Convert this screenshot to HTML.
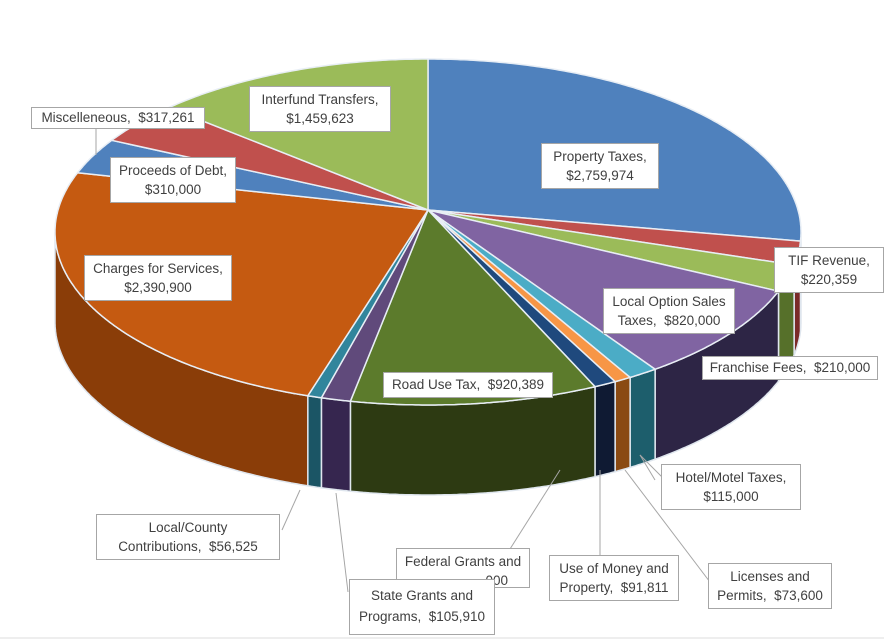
<!DOCTYPE html>
<html><head><meta charset="utf-8"><style>
body{margin:0;background:#fff;width:884px;height:639px;position:relative;overflow:hidden;font-family:"Liberation Sans",sans-serif}
.l{position:absolute;background:#fff;border:1px solid #a6a6a6;font-size:13.5px;color:#404040;text-align:center;line-height:19px;padding:3px 6px;white-space:nowrap;box-sizing:border-box}
svg{position:absolute;left:0;top:0}
</style></head><body>
<svg id="s" width="884" height="639"></svg>
<div class="l" style="left:249px;top:86px;width:142px">Interfund Transfers,<br>$1,459,623</div>
<div class="l" style="left:31px;top:107px;width:174px;line-height:20px;padding:0 4px">Miscelleneous,&nbsp; $317,261</div>
<div class="l" style="left:110px;top:157px;width:126px">Proceeds of Debt,<br>$310,000</div>
<div class="l" style="left:541px;top:143px;width:118px">Property Taxes,<br>$2,759,974</div>
<div class="l" style="left:774px;top:247px;width:110px">TIF Revenue,<br>$220,359</div>
<div class="l" style="left:84px;top:255px;width:148px">Charges for Services,<br>$2,390,900</div>
<div class="l" style="left:603px;top:288px;width:132px">Local Option Sales<br>Taxes,&nbsp; $820,000</div>
<div class="l" style="left:702px;top:356px;width:176px;line-height:20px;padding:1px 4px">Franchise Fees,&nbsp; $210,000</div>
<div class="l" style="left:383px;top:372px;width:170px;line-height:20px;padding:2px 4px">Road Use Tax,&nbsp; $920,389</div>
<div class="l" style="left:661px;top:464px;width:140px">Hotel/Motel Taxes,<br>$115,000</div>
<div class="l" style="left:96px;top:514px;width:184px">Local/County<br>Contributions,&nbsp; $56,525</div>
<div class="l" style="left:396px;top:548px;width:134px;height:40px">Federal Grants and<br>&nbsp;&nbsp;&nbsp;&nbsp;&nbsp;&nbsp;&nbsp;&nbsp;&nbsp;&nbsp;&nbsp;&nbsp;&nbsp;&nbsp;&nbsp;&nbsp;&nbsp;&nbsp;000</div>
<div class="l" style="left:549px;top:555px;width:130px">Use of Money and<br>Property,&nbsp; $91,811</div>
<div class="l" style="left:708px;top:563px;width:124px">Licenses and<br>Permits,&nbsp; $73,600</div>
<div class="l" style="left:349px;top:579px;width:146px;height:56px;line-height:21px;padding-top:5px">State Grants and<br>Programs,&nbsp; $105,910</div>
<script>
var cx=428,cy=232,rx=373,ry=173,D=90,ax=428,ay=210;
var sl=[[-90,3,'#4f81bd','#2d4d78'],[3,11,'#c0504d','#7a2a28'],[11,20,'#9bbb59','#56702a'],[20,52.5,'#8064a2','#2d2545'],[52.5,57.2,'#4bacc6','#1d5e6c'],[57.2,59.9,'#f79646','#8a4a12'],[59.9,63.4,'#1f497d','#0f1a33'],[63.4,102,'#5c7b2c','#2d3a12'],[102,106.6,'#604a7b','#36264f'],[106.6,108.8,'#31859c','#1b5565'],[108.8,200,'#c55a11','#8a3d08'],[200,212,'#4f81bd','#2d4d78'],[212,226,'#c0504d','#7a2a28'],[226,270,'#9bbb59','#56702a']];
function P(t,d){t=t*Math.PI/180;return[(cx+rx*Math.cos(t)).toFixed(1),(cy+ry*Math.sin(t)+(d||0)).toFixed(1)]}
var h='';
sl.forEach(function(s){var a=Math.max(s[0],0),b=Math.min(s[1],180);if(b<=a)return;
var p='M'+P(a).join(',');for(var t=a;t<=b;t+=0.5)p+='L'+P(t).join(',');p+='L'+P(b).join(',');
for(var t=b;t>=a;t-=0.5)p+='L'+P(t,D).join(',');p+='L'+P(a,D).join(',')+'Z';
h+='<path d="'+p+'" fill="'+s[3]+'" stroke="#dfe6ee" stroke-width="1.5"/>';});
sl.forEach(function(s){var p='M'+ax+','+ay+'L'+P(s[0]).join(',');for(var t=s[0];t<=s[1];t+=0.5)p+='L'+P(t).join(',');p+='L'+P(s[1]).join(',')+'Z';
h+='<path d="'+p+'" fill="'+s[2]+'" stroke="#e8eef5" stroke-width="1.5" stroke-linejoin="round"/>';});
var L=[[300,490,282,530],[336,493,348,592],[560,470,498,568],[600,470,600,557],[625,470,716,590],[640,455,665,480],[640,455,655,480],[96,128,96,155]];
L.forEach(function(l){h+='<line x1="'+l[0]+'" y1="'+l[1]+'" x2="'+l[2]+'" y2="'+l[3]+'" stroke="#a6a6a6" stroke-width="1"/>'});
h+='<line x1="0" y1="638" x2="884" y2="638" stroke="#ddd"/>';
document.getElementById('s').innerHTML=h;
</script>
</body></html>
